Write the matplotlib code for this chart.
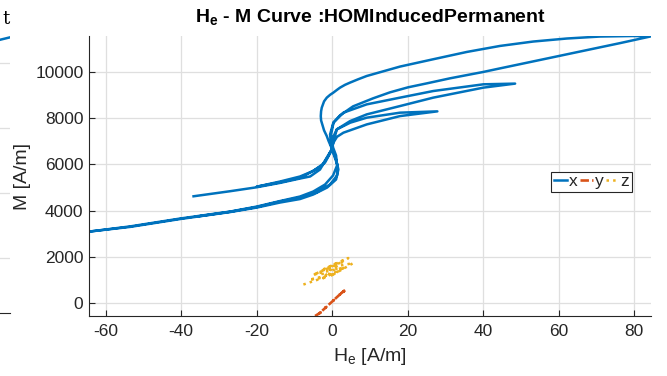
import matplotlib
matplotlib.use("Agg")
import matplotlib.pyplot as plt

plt.rcParams['font.family'] = ['Liberation Sans', 'DejaVu Sans']
plt.rcParams['mathtext.fontset'] = 'custom'
plt.rcParams['mathtext.rm'] = 'Liberation Sans'
plt.rcParams['mathtext.it'] = 'Liberation Sans:italic'
plt.rcParams['mathtext.bf'] = 'Liberation Sans:bold'
plt.rcParams['axes.unicode_minus'] = False

# ---------------- x component, branch by branch (He [A/m], M [A/m]) ----------------
# start -> first minor loop tip
x_he_1 = [-36.7, -27.0, -20.0, -13.8, -8.5, -5.8, -3.2, -1.1, -0.1, 0.34, 1.3, 3.0, 9.2, 18.0, 27.9]
x_m_1 = [4620, 4840, 5010, 5200, 5390, 5480, 5780, 6350, 6650, 6944, 7200, 7379, 7739, 8100, 8305]
# return from first tip, out to the left
x_he_2 = [18.0, 9.2, 4.8, 1.25, 0.0, -0.1, -1.06, -2.65, -5.3, -8.5, -13.8, -20.0]
x_m_2 = [8248, 8031, 7813, 7522, 7087, 6652, 6390, 5957, 5696, 5478, 5260, 5035]
# back to the right, second loop tip
x_he_3 = [-13.8, -8.5, -4.8, -1.85, -0.26, 0.53, 1.25, 4.77, 9.19, 18.0, 26.8, 40.1, 48.5]
x_m_3 = [5225, 5420, 5739, 6087, 6565, 7087, 7522, 7883, 8174, 8535, 8900, 9335, 9509]
# return from second tip down to the negative extreme
x_he_4 = [40.1, 26.8, 18.0, 9.19, 3.0, 0.34, -0.53, -0.26, 0.26, 1.06, 1.67, 1.06, -1.3,
          -5.0, -8.5, -13.8, -19.95, -27.0, -40.0, -53.5, -64.4]
x_m_4 = [9479, 9187, 8900, 8609, 8248, 7813, 7305, 6826, 6565, 6218, 5783, 5348, 5000,
         4696, 4500, 4348, 4130, 3935, 3639, 3291, 3087]
# from the negative extreme up to the main loop tip
x_he_5 = [-53.5, -40.0, -27.0, -19.95, -13.8, -8.5, -5.0, -1.85, 0.26, 1.32, 1.06, 0.26,
          -0.26, 0.4, 2.12, 5.56, 10.86, 15.36, 20.13, 25.17, 31.26, 40.0, 44.5, 52.45,
          60.4, 68.34, 76.29, 84.5]
x_m_5 = [3313, 3661, 3957, 4174, 4413, 4609, 4826, 5131, 5522, 5957, 6391, 6739,
         7305, 7826, 8131, 8522, 8870, 9131, 9348, 9522, 9739, 10013, 10170, 10444,
         10718, 10992, 11266, 11560]
# return from the main tip, round the S-bend, to the end point
x_he_6 = [79.7, 71.0, 62.2, 53.3, 44.5, 35.7, 26.8, 18.0, 9.19, 6.89, 4.77, 3.44, 2.12,
          1.32, 0.34, -0.53, -1.4, -2.12, -2.73, -2.91, -2.99, -2.91, -2.46, -2.12, -1.4,
          -0.93, -0.34, 0.53, 1.46, 1.32, -0.53, -4.2, -8.5, -13.8, -19.95, -27.0, -35.0]
x_m_6 = [11575, 11552, 11466, 11335, 11144, 10883, 10566, 10248, 9840, 9696, 9553, 9457, 9335,
         9240, 9118, 9022, 8900, 8739, 8466, 8305, 8100, 7913, 7666, 7479, 7231,
         7022, 6796, 6391, 5957, 5522, 5131, 4783, 4565, 4392, 4152, 3948, 3761]

# ---------------- y component ----------------
y_he = [-4.5, -3.0, -3.3, -1.5, -1.8, 0.5, 0.2, 2.2, 1.8, 3.2, 2.9, 3.7]
y_m = [-575, -420, -450, -180, -220, 120, 80, 380, 330, 520, 470, 565]

# ---------------- z component ----------------
z_he = [-7.6, -2.0, -6.0, 0.5, -4.5, 2.5, -3.0, 4.3, -1.5, 5.6, -0.5, 3.5,
        -2.5, 1.5, -5.0, 3.0, 0.0]
z_m = [790, 1100, 1000, 1250, 1250, 1500, 1400, 1940, 1500, 1720, 1150, 1550,
       1050, 1750, 1200, 1800, 1450]

# neighbouring panel, right-hand edge only
nb_x = [0.95, 1.02]
nb_y = [4.33, 4.42]

x_he = x_he_1 + x_he_2 + x_he_3 + x_he_4 + x_he_5 + x_he_6
x_m = x_m_1 + x_m_2 + x_m_3 + x_m_4 + x_m_5 + x_m_6

C_X = '#0072BD'
C_Y = '#D95319'
C_Z = '#EDB120'
DARK = '#262626'
GRID = '#dfdfdf'

W, H = 667, 376
fig = plt.figure(figsize=(W / 100, H / 100), dpi=100)

# --- neighbouring panel (clipped at the figure edge)
ax0 = fig.add_axes([-0.5, (H - 313) / H, 0.5 + 10 / W, (313 - 36) / H])
ax0.plot(nb_x, nb_y, color=C_X, lw=1.8, solid_capstyle='butt')
ax0.set_xlim(0, 1)
ax0.set_ylim(0.154, 4.415)
ax0.set_yticks([1, 2, 3, 4])
ax0.set_xticks([])
ax0.grid(True, axis='y', color=GRID, lw=0.9)
ax0.tick_params(left=False, labelleft=False, length=0)
for s in ['top', 'right', 'left']:
    ax0.spines[s].set_visible(False)
ax0.spines['bottom'].set_color(DARK)
ax0.spines['bottom'].set_linewidth(0.8)
ax0.set_title('t', loc='right', fontfamily='DejaVu Serif', fontsize=13, pad=9)

# --- main panel
left, right, top, bottom = 89, 651, 36, 316
ax = fig.add_axes([left / W, (H - bottom) / H, (right - left) / W, (bottom - top) / H])

ax.plot(x_he, x_m, color=C_X, lw=1.8, ls='-', label='x', solid_joinstyle='round')
ax.plot(y_he, y_m, color=C_Y, lw=1.9, ls='--', label='y', dashes=(3.2, 1.2))
ax.plot(z_he, z_m, color=C_Z, lw=1.8, ls=':', label='z')

all_he = x_he + y_he + z_he
all_m = x_m + y_m + z_m
ax.set_xlim(min(all_he), max(all_he))
ax.set_ylim(min(all_m), max(all_m))

ax.set_xticks([-60, -40, -20, 0, 20, 40, 60, 80])
ax.set_yticks([0, 2000, 4000, 6000, 8000, 10000])
ax.grid(True, color=GRID, lw=0.9)
ax.set_axisbelow(True)

for s in ['top', 'right']:
    ax.spines[s].set_visible(False)
for s in ['left', 'bottom']:
    ax.spines[s].set_color(DARK)
    ax.spines[s].set_linewidth(0.8)
ax.tick_params(direction='in', length=4, width=0.8, color=DARK, labelcolor=DARK,
               labelsize=12.5)
ax.tick_params(axis='x', pad=6)
ax.tick_params(axis='y', pad=4)

ax.set_title(r'$\mathbf{H}_{\mathbf{e}}$ - M Curve :HOMInducedPermanent',
             fontsize=14, fontweight='bold', color='black', pad=10)
ax.set_xlabel(r'$\mathrm{H}_{\mathrm{e}}$ [A/m]', fontsize=14, color=DARK, labelpad=5)
ax.set_ylabel('M [A/m]', fontsize=14, color=DARK, labelpad=3)

leg = ax.legend(loc='center right', bbox_to_anchor=(1 - 19 / (right - left), 0.479),
                ncol=3, fontsize=12.5, frameon=True, fancybox=False, framealpha=1,
                handlelength=0.75, handletextpad=0.1, columnspacing=0.15,
                borderpad=0.15, borderaxespad=0.0)
leg.get_frame().set_edgecolor(DARK)
leg.get_frame().set_linewidth(0.8)
for t in leg.get_texts():
    t.set_color(DARK)

fig.savefig('out.png', dpi=100)
